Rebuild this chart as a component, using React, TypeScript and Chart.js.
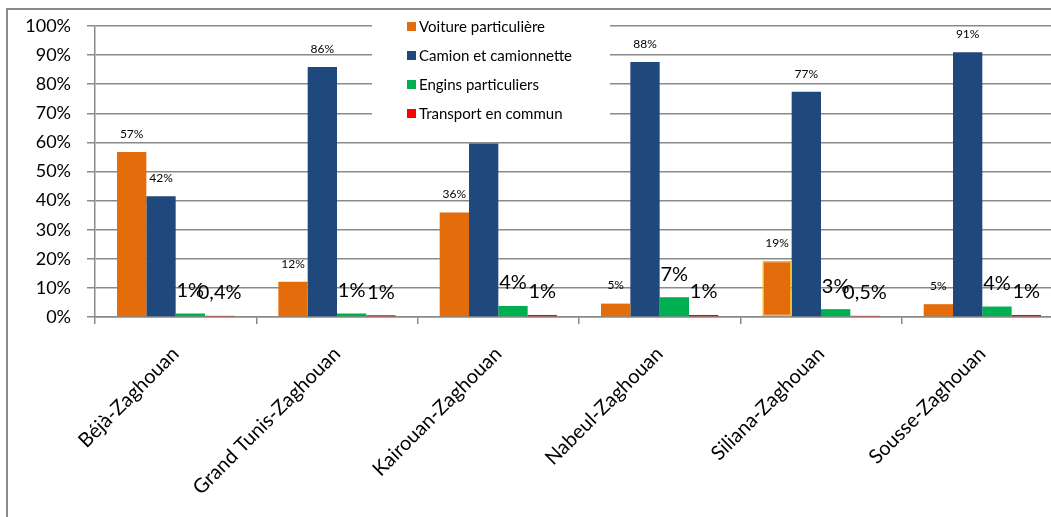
import React, { useEffect, useRef } from "react";
import { Chart, registerables } from "chart.js";

Chart.register(...registerables);

const categories = [
  "Béjà-Zaghouan",
  "Grand Tunis-Zaghouan",
  "Kairouan-Zaghouan",
  "Nabeul-Zaghouan",
  "Siliana-Zaghouan",
  "Sousse-Zaghouan",
];
const seriesNames = [
  "Voiture particulière",
  "Camion et camionnette",
  "Engins particuliers",
  "Transport en commun",
];
const seriesColors = ["#E46C0A", "#1F497D", "#00B050", "#FF0000"];

const voiture = [56.7, 12.1, 35.9, 4.6, 19.3, 4.4];
const camion = [41.5, 85.9, 59.6, 87.6, 77.4, 91.0];
const engins = [1.2, 1.2, 3.8, 6.8, 2.7, 3.6];
const transport = [0.4, 0.6, 0.7, 0.7, 0.4, 0.7];

const voitureLabels = ["57%", "12%", "36%", "5%", "19%", "5%"];
const camionLabels = ["42%", "86%", "", "88%", "77%", "91%"];
const enginsLabels = ["1%", "1%", "4%", "7%", "3%", "4%"];
const transportLabels = ["0,4%", "1%", "1%", "1%", "0,5%", "1%"];

const yTickValues = [0, 10, 20, 30, 40, 50, 60, 70, 80, 90, 100];

const FONT = "Lato";
const GRID = "#8a8a8a";

const labelsPlugin = {
  id: "barLabels",
  afterDatasetsDraw(chart: any) {
    const ctx = chart.ctx;
    const sets = [
      { labels: voitureLabels, size: 12, off: 18 },
      { labels: camionLabels, size: 12, off: 18 },
      { labels: enginsLabels, size: 20, off: 23 },
      { labels: transportLabels, size: 20, off: 23 },
    ];
    ctx.save();
    ctx.fillStyle = "#000";
    ctx.textAlign = "center";
    ctx.textBaseline = "middle";
    sets.forEach((s, di) => {
      const meta = chart.getDatasetMeta(di);
      ctx.font = `${s.size}px ${FONT}`;
      meta.data.forEach((el: any, i: number) => {
        const t = s.labels[i];
        if (!t) return;
        ctx.fillText(t, el.x, el.y - s.off);
      });
    });
    ctx.restore();
  },
};

const legendPlugin = {
  id: "boxLegend",
  afterDraw(chart: any) {
    const ctx = chart.ctx;
    const area = chart.chartArea;
    const boxLeft = area.left + 277;
    const boxTop = 2;
    ctx.save();
    ctx.fillStyle = "#fff";
    ctx.fillRect(boxLeft, boxTop, 238, 116);
    ctx.font = `15px ${FONT}`;
    ctx.textAlign = "left";
    ctx.textBaseline = "middle";
    seriesNames.forEach((name, i) => {
      const cy = area.top + 0.5 + i * 29;
      ctx.fillStyle = seriesColors[i];
      ctx.fillRect(boxLeft + 35, cy - 4.5, 9, 9);
      ctx.fillStyle = "#000";
      ctx.fillText(name, boxLeft + 47, cy + 0.5);
    });
    ctx.restore();
  },
};

export default function App() {
  const ref = useRef<HTMLCanvasElement>(null);

  useEffect(() => {
    if (!ref.current) return;
    const data = [voiture, camion, engins, transport];
    const chart = new Chart(ref.current, {
      type: "bar",
      data: {
        labels: categories,
        datasets: data.map((d, i) => ({
          label: seriesNames[i],
          data: d,
          backgroundColor: seriesColors[i],
          borderColor: i === 0 ? categories.map((_, k) => (k === 4 ? "#F5C000" : seriesColors[0])) : seriesColors[i],
          borderWidth: i === 0 ? categories.map((_, k) => (k === 4 ? 1.5 : 0)) : 0,
          borderSkipped: false,
          categoryPercentage: 0.727,
          barPercentage: 1,
        })),
      },
      options: {
        animation: false,
        responsive: false,
        maintainAspectRatio: false,
        layout: { padding: { left: 0, top: 16, right: 25, bottom: 0 } },
        plugins: {
          legend: { display: false },
          tooltip: { enabled: false },
        },
        scales: {
          x: {
            offset: true,
            grid: {
              offset: true,
              drawOnChartArea: false,
              color: GRID,
              lineWidth: 1.5,
              tickLength: 7,
            },
            border: { color: GRID, width: 1.5 },
            ticks: {
              minRotation: 45,
              maxRotation: 45,
              padding: 18,
              color: "#000",
              font: { family: FONT, size: 20 },
            },
            afterFit(scale: any) {
              scale.height = 233;
            },
          },
          y: {
            min: 0,
            max: 100,
            afterBuildTicks(scale: any) {
              scale.ticks = yTickValues.map((v) => ({ value: v }));
            },
            grid: {
              color: GRID,
              lineWidth: 1.5,
              tickLength: 8,
            },
            border: { color: GRID, width: 1.5 },
            ticks: {
              padding: 16,
              color: "#000",
              font: { family: FONT, size: 18 },
              callback: (v: any) => `${v}%`,
            },
            afterFit(scale: any) {
              scale.width = 87;
              scale.paddingTop = 4;
              scale.paddingBottom = 4;
            },
          },
        },
      },
      plugins: [labelsPlugin, legendPlugin],
    });
    return () => chart.destroy();
  }, []);

  return (
    <div
      style={{
        position: "fixed",
        left: 0,
        top: 0,
        width: 1051,
        height: 517,
        overflow: "hidden",
        background: "#fff",
      }}
    >
      <div
        style={{
          position: "absolute",
          left: 6,
          top: 8,
          width: 1100,
          height: 560,
          border: "2px solid #8a8a8a",
          boxSizing: "border-box",
        }}
      >
        <canvas ref={ref} width={1080} height={540} style={{ display: "block" }} />
      </div>
    </div>
  );
}
